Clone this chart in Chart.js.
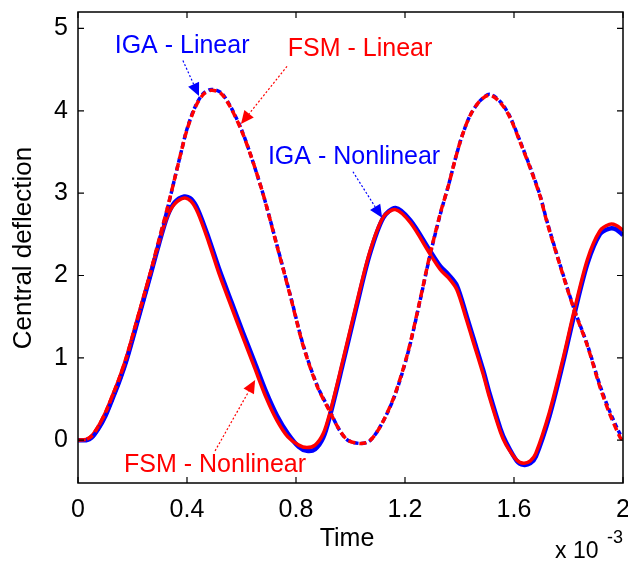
<!DOCTYPE html>
<html>
<head>
<meta charset="utf-8">
<script src="https://cdn.jsdelivr.net/npm/chart.js@4.4.1/dist/chart.umd.min.js"></script>
<style>
  html, body { margin: 0; padding: 0; background: #fff; }
  #wrap { width: 628px; height: 565px; }
</style>
</head>
<body>
<div id="wrap"><canvas id="chart" width="628" height="565"></canvas></div>
<script>
"use strict";

//------------------ data (time in units of 1e-3) ------------------
const linTime = [0, 0.03, 0.05, 0.075, 0.1, 0.125, 0.15, 0.177, 0.22, 0.263, 0.296, 0.328, 0.355, 0.38, 0.40,
  0.43, 0.46, 0.49, 0.525, 0.56, 0.6, 0.635, 0.68, 0.73, 0.78, 0.826, 0.877, 0.925, 0.96, 0.99, 1.035, 1.07,
  1.11, 1.16, 1.21, 1.255, 1.29, 1.33, 1.36, 1.385, 1.41, 1.44, 1.475, 1.51, 1.55, 1.585, 1.62, 1.66, 1.695,
  1.72, 1.77, 1.82, 1.87, 1.915, 1.95, 1.99, 2.0];
const linIGA = [0, 0.0, 0.03, 0.14, 0.29, 0.49, 0.7, 0.96, 1.46, 1.97, 2.4, 2.81, 3.18, 3.52, 3.78,
  4.05, 4.21, 4.26, 4.22, 4.05, 3.77, 3.45, 2.98, 2.37, 1.75, 1.16, 0.67, 0.35, 0.12, 0.0, -0.04, -0.01,
  0.17, 0.52, 1.05, 1.69, 2.22, 2.75, 3.1, 3.42, 3.7, 3.95, 4.12, 4.2, 4.11, 3.93, 3.65, 3.31, 2.98,
  2.67, 2.12, 1.6, 1.15, 0.67, 0.36, 0.07, 0.05];
const linFSM = [0, 0.01, 0.05, 0.17, 0.33, 0.53, 0.74, 1.0, 1.5, 2.0, 2.42, 2.82, 3.18, 3.52, 3.77,
  4.04, 4.2, 4.25, 4.21, 4.04, 3.76, 3.45, 2.98, 2.36, 1.74, 1.15, 0.66, 0.34, 0.12, 0.0, -0.04, -0.01,
  0.17, 0.53, 1.06, 1.7, 2.23, 2.76, 3.1, 3.42, 3.7, 3.95, 4.12, 4.19, 4.1, 3.92, 3.64, 3.3, 2.97,
  2.66, 2.11, 1.59, 1.14, 0.65, 0.33, 0.03, 0.0];

const nonTime = [0, 0.03, 0.05, 0.075, 0.1, 0.125, 0.15, 0.177, 0.22, 0.263, 0.296, 0.328, 0.355, 0.39, 0.415,
  0.44, 0.48, 0.52, 0.563, 0.605, 0.648, 0.69, 0.73, 0.77, 0.81, 0.84, 0.87, 0.9, 0.925, 0.97, 1.02, 1.07,
  1.12, 1.165, 1.22, 1.29, 1.33, 1.36, 1.39, 1.426, 1.45, 1.487, 1.51, 1.55, 1.57, 1.61, 1.635, 1.66, 1.68,
  1.73, 1.78, 1.82, 1.87, 1.915, 1.95, 1.975, 2.0];
const nonIGA = [0, 0.0, 0.03, 0.14, 0.29, 0.49, 0.7, 0.96, 1.46, 1.97, 2.37, 2.72, 2.89, 2.96, 2.93,
  2.8, 2.45, 2.06, 1.68, 1.31, 0.95, 0.59, 0.3, 0.08, -0.08, -0.13, -0.11, 0.03, 0.3, 0.9, 1.59, 2.25,
  2.7, 2.82, 2.67, 2.31, 2.11, 2.01, 1.88, 1.51, 1.25, 0.85, 0.57, 0.14, -0.02, -0.25, -0.3, -0.28, -0.2,
  0.29, 0.94, 1.51, 2.15, 2.5, 2.57, 2.56, 2.49];
const nonFSM = [0, 0.01, 0.05, 0.17, 0.33, 0.53, 0.74, 1.0, 1.5, 2.0, 2.39, 2.72, 2.87, 2.94, 2.9,
  2.76, 2.4, 2.0, 1.62, 1.25, 0.88, 0.52, 0.24, 0.04, -0.06, -0.09, -0.06, 0.08, 0.34, 0.94, 1.63, 2.28,
  2.71, 2.8, 2.64, 2.27, 2.07, 1.97, 1.83, 1.46, 1.2, 0.8, 0.52, 0.1, -0.05, -0.24, -0.28, -0.25, -0.16,
  0.34, 0.99, 1.56, 2.2, 2.54, 2.62, 2.61, 2.55];

const xTicks = [0, 0.4, 0.8, 1.2, 1.6, 2];
const yTicks = [0, 1, 2, 3, 4, 5];

// text labels with arrows, in data coordinates
const notes = [
  { text: "IGA - Linear", color: "#0000ff", at: [0.382, 4.79], from: [0.385, 4.61], to: [0.444, 4.18] },
  { text: "FSM - Linear", color: "#ff0000", at: [1.035, 4.75], from: [0.767, 4.54], to: [0.598, 3.84] },
  { text: "IGA - Nonlinear", color: "#0000ff", at: [1.013, 3.44], from: [1.009, 3.26], to: [1.116, 2.70] },
  { text: "FSM - Nonlinear", color: "#ff0000", at: [0.503, -0.30], from: [0.503, -0.13], to: [0.65, 0.73] }
];

const FONT = '"Liberation Sans", Arial, Helvetica, sans-serif';

function pts(xs, ys) {
  return xs.map((x, i) => ({ x: x, y: ys[i] }));
}

//------------------ plugin: box, inward ticks, titles, notes ------------------
const matlabAxes = {
  id: "matlabAxes",
  afterDraw(chart) {
    const ctx = chart.ctx;
    const a = chart.chartArea;
    const sx = chart.scales.x, sy = chart.scales.y;
    ctx.save();
    ctx.strokeStyle = "#000";
    ctx.lineWidth = 1.5;
    ctx.strokeRect(a.left, a.top, a.right - a.left, a.bottom - a.top);
    ctx.lineWidth = 1.2;
    ctx.beginPath();
    for (let v of xTicks) {
      let px = sx.getPixelForValue(v);
      ctx.moveTo(px, a.bottom); ctx.lineTo(px, a.bottom - 6);
      ctx.moveTo(px, a.top); ctx.lineTo(px, a.top + 6);
    }
    for (let v of yTicks) {
      let py = sy.getPixelForValue(v);
      ctx.moveTo(a.left, py); ctx.lineTo(a.left + 6, py);
      ctx.moveTo(a.right, py); ctx.lineTo(a.right - 6, py);
    }
    ctx.stroke();

    // axis titles
    ctx.fillStyle = "#000";
    ctx.font = "25px " + FONT;
    ctx.textAlign = "center";
    ctx.textBaseline = "middle";
    ctx.fillText("Time", 347, a.bottom + 56);
    ctx.save();
    ctx.translate(24, 248);
    ctx.rotate(-Math.PI / 2);
    ctx.font = "26px " + FONT;
    ctx.fillText("Central deflection", 0, 0);
    ctx.restore();

    // exponent
    ctx.textAlign = "left";
    ctx.textBaseline = "alphabetic";
    ctx.font = "23px " + FONT;
    ctx.fillText("x 10", a.right - 68, a.bottom + 75);
    ctx.font = "18px " + FONT;
    ctx.fillText("-3", a.right - 16, a.bottom + 60);

    // notes with dotted arrows
    for (let n of notes) {
      ctx.fillStyle = n.color;
      ctx.strokeStyle = n.color;
      ctx.font = "25px " + FONT;
      ctx.textAlign = "center";
      ctx.textBaseline = "middle";
      ctx.fillText(n.text, sx.getPixelForValue(n.at[0]), sy.getPixelForValue(n.at[1]));

      let x1 = sx.getPixelForValue(n.from[0]), y1 = sy.getPixelForValue(n.from[1]);
      let x2 = sx.getPixelForValue(n.to[0]), y2 = sy.getPixelForValue(n.to[1]);
      let ang = Math.atan2(y2 - y1, x2 - x1);
      let hl = 13, hw = 6;
      let bx = x2 - hl * Math.cos(ang), by = y2 - hl * Math.sin(ang);
      ctx.lineWidth = 1.2;
      ctx.setLineDash([2, 2]);
      ctx.beginPath();
      ctx.moveTo(x1, y1);
      ctx.lineTo(bx, by);
      ctx.stroke();
      ctx.setLineDash([]);
      ctx.beginPath();
      ctx.moveTo(x2, y2);
      ctx.lineTo(bx + hw * Math.sin(ang), by - hw * Math.cos(ang));
      ctx.lineTo(bx - hw * Math.sin(ang), by + hw * Math.cos(ang));
      ctx.closePath();
      ctx.fill();
    }
    ctx.restore();
  }
};

//------------------ chart ------------------
let ctx = document.getElementById("chart").getContext("2d");

let chart = new Chart(ctx, {
  type: "line",
  data: {
    datasets: [
      { label: "IGA - Nonlinear", data: pts(nonTime, nonIGA), borderColor: "#0000ff", borderWidth: 4.5, order: 4 },
      { label: "FSM - Nonlinear", data: pts(nonTime, nonFSM), borderColor: "#ff0000", borderWidth: 3.5, order: 3 },
      { label: "IGA - Linear", data: pts(linTime, linIGA), borderColor: "#0000ff", borderWidth: 3.5, borderDash: [5, 3], order: 2 },
      { label: "FSM - Linear", data: pts(linTime, linFSM), borderColor: "#ff0000", borderWidth: 3.5, borderDash: [7, 4], borderDashOffset: 2, order: 1 }
    ]
  },
  options: {
    responsive: false,
    animation: false,
    layout: { padding: { top: 12, right: 5, left: 0, bottom: 0 } },
    elements: {
      point: { radius: 0 },
      line: { tension: 0.3, fill: false }
    },
    plugins: {
      legend: { display: false },
      tooltip: { enabled: false }
    },
    scales: {
      x: {
        type: "linear",
        min: 0,
        max: 2,
        afterBuildTicks: s => { s.ticks = xTicks.map(v => ({ value: v })); },
        afterFit: s => { s.height = 82; s.paddingLeft = 0; s.paddingRight = 0; },
        grid: { display: false, drawTicks: false },
        border: { display: false },
        ticks: { color: "#000", font: { family: FONT, size: 25 }, padding: 12, maxRotation: 0, callback: v => String(v) }
      },
      y: {
        type: "linear",
        min: -0.52,
        max: 5.2,
        afterBuildTicks: s => { s.ticks = yTicks.map(v => ({ value: v })); },
        afterFit: s => { s.width = 78; s.paddingTop = 0; s.paddingBottom = 0; },
        grid: { display: false, drawTicks: false },
        border: { display: false },
        ticks: { color: "#000", font: { family: FONT, size: 25 }, padding: 10, callback: v => String(v) }
      }
    }
  },
  plugins: [matlabAxes]
});
</script>
</body>
</html>
